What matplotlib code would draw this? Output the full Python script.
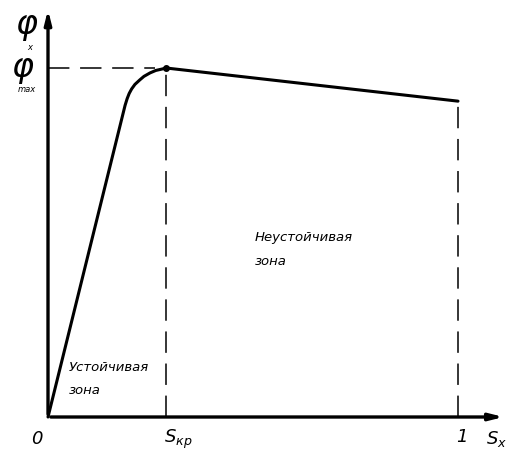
import matplotlib
matplotlib.use("Agg")
import matplotlib.pyplot as plt

# characteristic curve phi(S), normalized: S in [0, 1], phi_max = 1
s_vals = [0.0, 0.188, 0.193, 0.198, 0.204, 0.212, 0.224, 0.234, 0.249, 0.263, 0.278, 0.288, 1.0]
phi_vals = [0.0, 0.893, 0.912, 0.927, 0.940, 0.953, 0.966, 0.976, 0.986, 0.993, 0.997, 1.0, 0.905]
s_kr = 0.288
phi_max = 1.0
phi_end = 0.905

fig = plt.figure(figsize=(5.11, 4.52), dpi=100)
ax = fig.add_axes([0, 0, 1, 1])
ax.set_xlim(-48 / 410, 463 / 410)
ax.set_ylim(-34 / 349, 418 / 349)
ax.axis('off')

# axes with arrows
ax.annotate('', xy=(1.118, 0), xytext=(0, 0),
            arrowprops=dict(arrowstyle='-|>,head_length=0.8,head_width=0.2', lw=2.4, color='k'))
ax.annotate('', xy=(0, 1.175), xytext=(0, 0),
            arrowprops=dict(arrowstyle='-|>,head_length=0.8,head_width=0.2', lw=2.4, color='k'))

# dashed guide lines
ax.plot([0, 0.26], [phi_max, phi_max], color='k', lw=1.1, dashes=(14, 7))
ax.plot([s_kr, s_kr], [0, phi_max], color='k', lw=1.1, dashes=(14, 7))
ax.plot([1, 1], [0, phi_end], color='k', lw=1.1, dashes=(14, 7))

# curve
ax.plot(s_vals, phi_vals, color='k', lw=2.2, solid_joinstyle='round', solid_capstyle='round')
ax.plot([s_kr], [phi_max], 'o', color='k', ms=4)

txt = dict(color='k', fontstyle='italic', family='DejaVu Sans')
ax.text(-0.027, -0.06, '0', fontsize=13, ha='center', va='center', **txt)
ax.text(s_kr - 0.005, -0.06, r'$S_{\mathit{кр}}$', fontsize=13, ha='left', va='center', color='k')
ax.text(1.01, -0.055, '1', fontsize=13, ha='center', va='center', **txt)
ax.text(1.095, -0.06, r'$S_{x}$', fontsize=13, ha='center', va='center', color='k')

# phi labels: glyph plus small subscripts
ax.text(-0.051, 1.122, r'$\varphi$', fontsize=24, ha='center', va='center', color='k')
ax.text(-0.044, 1.063, 'x', fontsize=6, ha='center', va='center', **txt)
ax.text(-0.061, 1.0, r'$\varphi$', fontsize=24, ha='center', va='center', color='k')
ax.text(-0.051, 0.94, 'max', fontsize=6, ha='center', va='center', **txt)

ax.text(0.05, 0.112, 'Устойчивая\nзона', fontsize=9.5, ha='left', va='center', linespacing=2.0, **txt)
ax.text(0.505, 0.484, 'Неустойчивая\nзона', fontsize=9.5, ha='left', va='center', linespacing=2.1, **txt)

fig.savefig('out.png', dpi=100)
